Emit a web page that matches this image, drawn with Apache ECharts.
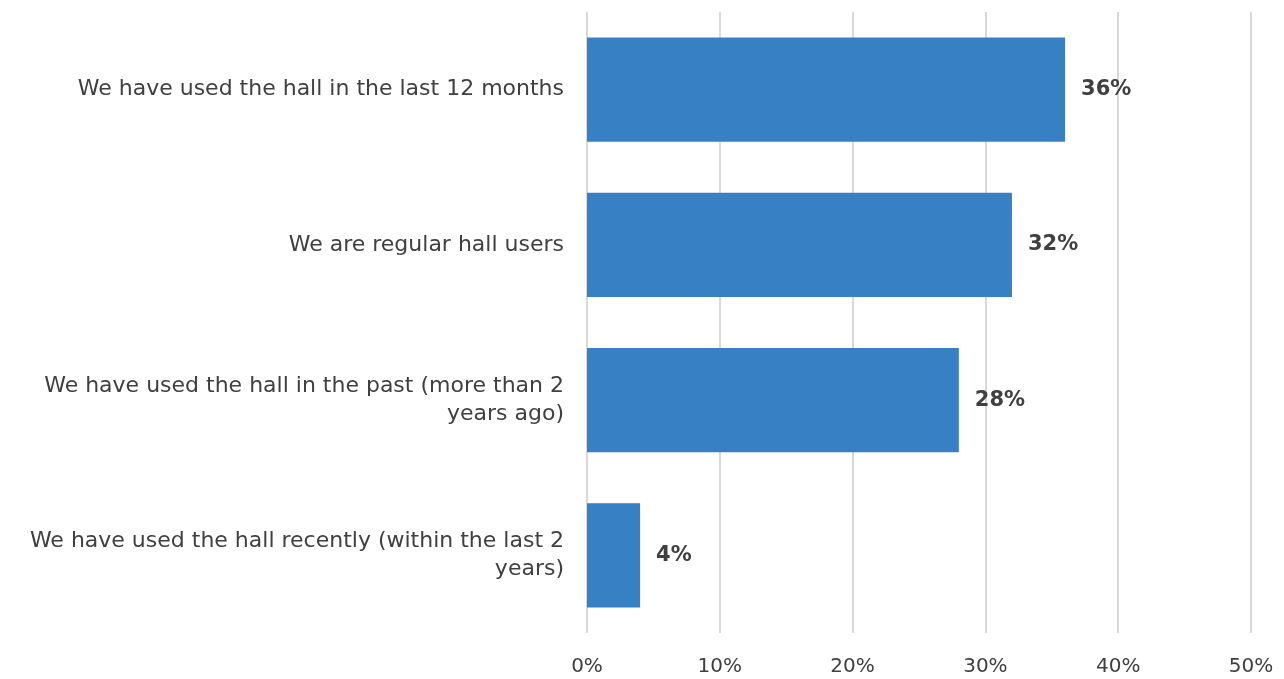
<!DOCTYPE html>
<html><head><meta charset="utf-8">
<script src="https://cdn.jsdelivr.net/npm/echarts@6/dist/echarts.min.js"></script>
<style>html,body{margin:0;padding:0;background:#fff}#c{width:1284px;height:679px}</style>
</head><body><div id="c"></div>
<script>
const categories = [
  "We have used the hall recently (within the last 2\nyears)",
  "We have used the hall in the past (more than 2\nyears ago)",
  "We are regular hall users",
  "We have used the hall in the last 12 months"
];
const values = [4, 28, 32, 36];
const xTicks = [0, 10, 20, 30, 40, 50];

const FONT = 'DejaVu Sans';
const chart = echarts.init(document.getElementById('c'));
chart.setOption({
  animation: false,
  grid: {left: 587, right: 33, top: 12, bottom: 46, containLabel: false},
  xAxis: {
    type: 'value', min: xTicks[0], max: xTicks[xTicks.length - 1], interval: 10,
    axisLine: {show: false}, axisTick: {show: false},
    splitLine: {lineStyle: {color: '#d9d9d9', width: 2}},
    axisLabel: {formatter: v => v + '%', color: '#404040', fontSize: 20, margin: 24, fontFamily: FONT}
  },
  yAxis: {
    type: 'category', data: categories,
    axisLine: {show: false}, axisTick: {show: false},
    axisLabel: {color: '#404040', fontSize: 22, margin: 23, fontFamily: FONT, align: 'right', lineHeight: 28}
  },
  series: [{
    type: 'bar', data: values, barCategoryGap: '33%',
    itemStyle: {color: '#3880C4'},
    label: {show: true, position: 'right', distance: 16, formatter: p => p.value + '%',
      color: '#404040', fontSize: 21, fontWeight: 'bold', fontFamily: FONT}
  }]
});
</script></body></html>
